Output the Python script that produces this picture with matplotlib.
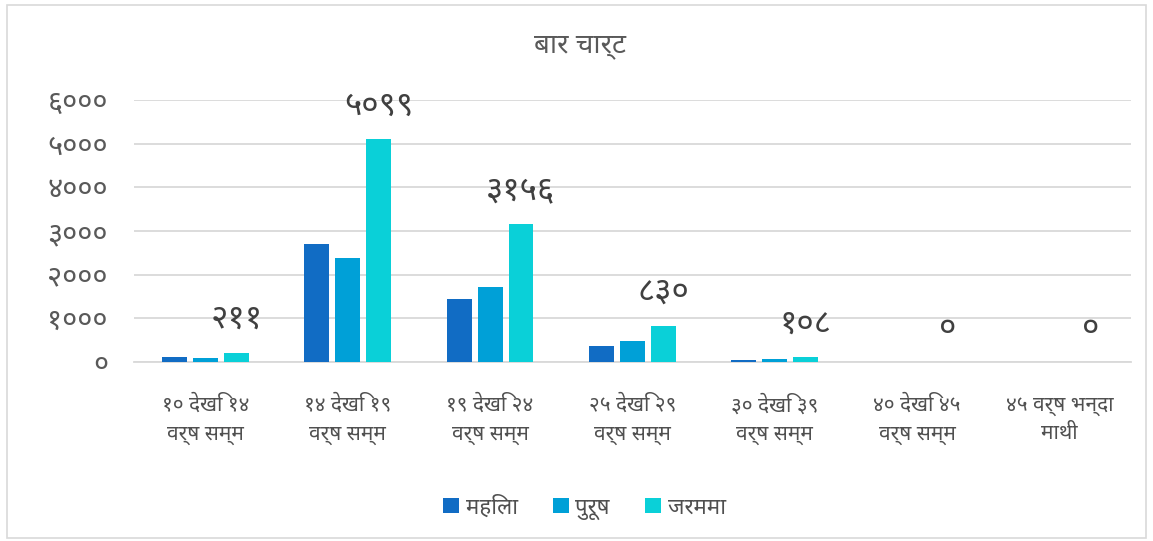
import matplotlib
matplotlib.use("Agg")
import matplotlib.pyplot as plt
from matplotlib import font_manager
from matplotlib.patches import Rectangle
import numpy as np


def pick_devanagari_font() -> str:
    """Pick the first installed font that has Devanagari letters and digits"""
    from fontTools.ttLib import TTFont
    wanted = ["Noto Sans Devanagari", "Mukta", "Poppins", "Biryani", "Hind"]
    for name in wanted:
        for f in font_manager.fontManager.ttflist:
            if f.name != name:
                continue
            try:
                cmap = TTFont(f.fname, fontNumber=0, lazy=True).getBestCmap()
                if 0x0915 in cmap and 0x0966 in cmap and 0x096F in cmap:
                    return name
            except Exception:
                pass
    return "DejaVu Sans"


DEV_DIGITS = "०१२३४५६७८९"


def to_nepali(n: int) -> str:
    return "".join(DEV_DIGITS[int(c)] for c in str(int(n)))


# data
categories = [
    "१० देखि १४\nवर्ष सम्म",
    "१४ देखि १९\nवर्ष सम्म",
    "१९ देखि २४\nवर्ष सम्म",
    "२५ देखि २९\nवर्ष सम्म",
    "३० देखि ३९\nवर्ष सम्म",
    "४० देखि ४५\nवर्ष सम्म",
    "४५ वर्ष भन्दा\nमाथी",
]
mahila = [120, 2710, 1440, 360, 40, 0, 0]
purush = [91, 2389, 1716, 470, 68, 0, 0]
jarmama = [211, 5099, 3156, 830, 108, 0, 0]
series_names = ["महिला", "पुरूष", "जरममा"]
y_ticks = [0, 1000, 2000, 3000, 4000, 5000, 6000]
title = "बार चार्ट"

colors = ["#116CC4", "#00A0D7", "#0AD0D8"]
text_color = "#595959"
grid_color = "#D9D9D9"

dev_font = pick_devanagari_font()
plt.rcParams['font.family'] = [dev_font, 'DejaVu Sans']

fig = plt.figure(figsize=(11.53, 5.41), dpi=100)
fig.patches.append(Rectangle((0.006, 0.006), 0.988, 0.985, transform=fig.transFigure,
                             fill=False, edgecolor=grid_color, linewidth=1.2))

ax = fig.add_axes([0.1165, 0.331, 0.864, 0.484])

x = np.arange(len(categories))
width = 0.175
step = 0.217
all_series = [mahila, purush, jarmama]
for i, (vals, name, col) in enumerate(zip(all_series, series_names, colors)):
    ax.bar(x + (i - 1) * step, vals, width, color=col, label=name, zorder=3)

# data labels only on the total series
for xi, v in zip(x, jarmama):
    ax.annotate(to_nepali(v), (xi + step, v), xytext=(0, 24), textcoords="offset points",
                ha="center", va="center", fontsize=24, color="#404040")

ax.set_xlim(-0.5, len(categories) - 0.5)
ax.set_ylim(0, 6000)
ax.set_yticks(y_ticks)
ax.set_yticklabels([to_nepali(t) for t in y_ticks], fontsize=21, color=text_color)
ax.set_xticks(x)
ax.set_xticklabels(categories, fontsize=15, color="#505050", fontweight="bold",
                   linespacing=1.45)
ax.tick_params(axis="x", length=0, pad=24)
ax.tick_params(axis="y", length=0, pad=19)
ax.grid(axis="y", color=grid_color, linewidth=1.3, zorder=0)
for side in ["top", "right", "left"]:
    ax.spines[side].set_visible(False)
ax.spines["bottom"].set_color(grid_color)
ax.spines["bottom"].set_linewidth(1.3)

fig.text(0.503, 0.917, title, ha="center", va="center", fontsize=20, color=text_color)

fig.legend(loc="center", bbox_to_anchor=(0.507, 0.062), ncol=3, frameon=False,
           fontsize=16, handlelength=0.7, handleheight=0.7, columnspacing=1.6,
           handletextpad=0.3, labelcolor="#505050")

fig.savefig("out.png", dpi=100)
